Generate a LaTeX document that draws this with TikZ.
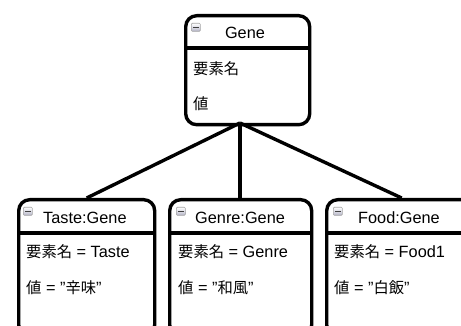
\documentclass[tikz,border=0pt]{standalone}
\usepackage{fontspec}
\setmainfont{Liberation Sans}
\newfontfamily\cjk{Noto Sans CJK JP}[Scale=0.94]
\usetikzlibrary{calc}
\tikzset{
  classbox/.style={draw=black, line width=3.4pt, rounded corners=11pt, rectangle,
    inner sep=0pt, anchor=north west, fill=white},
  sep/.style={draw=black, line width=3.2pt},
  conn/.style={draw=black, line width=3.4pt},
  txt/.style={inner sep=0pt, anchor=base west, font=\fontsize{16.3}{19}\selectfont},
  icon/.style={draw=gray!70, line width=0.6pt, rounded corners=1pt, inner sep=0pt,
    minimum width=9pt, minimum height=8pt, anchor=north west,
    top color=white, bottom color=blue!15!gray!50}
}
\begin{document}
\begin{tikzpicture}[x=1pt,y=-1pt]
\useasboundingbox (0,0) rectangle (461,326);
\begin{scope}
\clip (0,0) rectangle (461,326);
\node[classbox, minimum width=124pt, minimum height=109pt] (gene) at (184,14) {};
\coordinate (hub) at (240,123);
\node[classbox, minimum width=136pt, minimum height=136pt] (taste) at (17,198) {};
\node[classbox, minimum width=142pt, minimum height=136pt] (genre) at (168,198) {};
\node[classbox, minimum width=150pt, minimum height=136pt] (food) at (325,198) {};
% connectors
\draw[conn] (hub) -- (taste.north);
\draw[conn] (hub) -- (hub |- genre.north);
\draw[conn] (hub) -- (food.north);
% header separators
\draw[sep] (gene.west |- 0,48) -- (gene.east |- 0,48);
\draw[sep] (taste.west |- 0,233) -- (taste.east |- 0,233);
\draw[sep] (genre.west |- 0,233) -- (genre.east |- 0,233);
\draw[sep] (food.west |- 0,233) -- (food.east |- 0,233);
% icons
\node[icon] (ig) at (191,23) {};
\node[icon] (it) at (23,207) {};
\node[icon] (in) at (176,207) {};
\node[icon] (if) at (333,207) {};
\foreach \i in {ig,it,in,if}{
  \draw[line width=1pt, black!75] ($(\i.west)+(2,0)$) -- ($(\i.east)+(-2,0)$);
}
% titles
\node[txt, anchor=base] (tg) at (245,39) {Gene};
\node[txt] (tt) at (43,223) {Taste:Gene};
\node[txt] (tn) at (195,223) {Genre:Gene};
\node[txt] (tf) at (358,223) {Food:Gene};
% bodies
\node[txt] (g1) at (193,75) {\cjk 要素名};
\node[txt] (g2) at (193,110) {\cjk 値};
\node[txt] (t1) at (26,258) {{\cjk 要素名} = Taste};
\node[txt] (t2) at (26,294) {{\cjk 値} = "{\cjk 辛味}"};
\node[txt] (n1) at (178,258) {{\cjk 要素名} = Genre};
\node[txt] (n2) at (178,294) {{\cjk 値} = "{\cjk 和風}"};
\node[txt] (f1) at (334,258) {{\cjk 要素名} = Food1};
\node[txt] (f2) at (334,294) {{\cjk 値} = "{\cjk 白飯}"};
\end{scope}
\end{tikzpicture}
\end{document}
